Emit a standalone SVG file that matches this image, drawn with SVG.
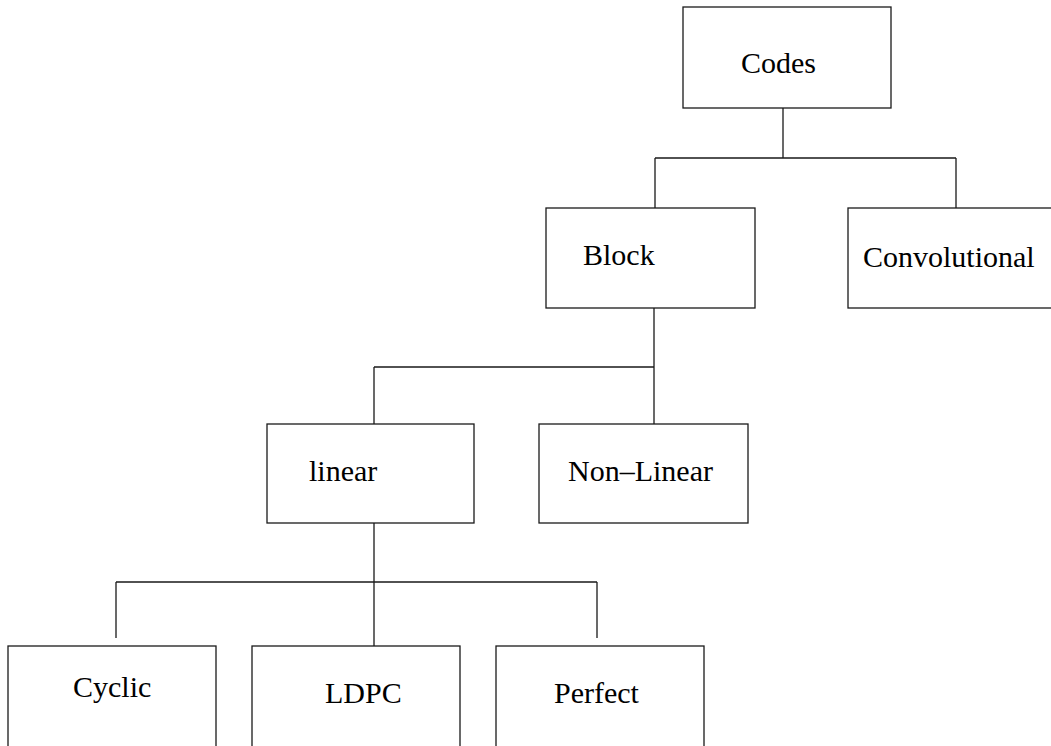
<svg xmlns="http://www.w3.org/2000/svg" width="1051" height="746" viewBox="0 0 1051 746">
  <style>
    .box { fill: #ffffff; stroke: #1a1a1a; stroke-width: 1.3; }
    .edge { fill: none; stroke: #1a1a1a; stroke-width: 1.3; }
    .label { font-family: "Liberation Serif", "Times New Roman", serif; font-size: 30px; fill: #000000; }
  </style>
  <rect x="0" y="0" width="1051" height="746" fill="#ffffff"/>

  <!-- tree connectors -->
  <g id="connectors">
    <path class="edge" d="M783,108 V158 M655,158 H956 M655,158 V208 M956,158 V208"/>
    <path class="edge" d="M654,308 V424 M374,367 H654 M374,367 V424"/>
    <path class="edge" d="M374,523 V646 M116,582 H597 M116,582 V638 M597,582 V638"/>
  </g>

  <g id="node-codes">
    <rect class="box" x="683" y="7" width="208" height="101"/>
    <text class="label" x="741" y="73">Codes</text>
  </g>
  <g id="node-block">
    <rect class="box" x="546" y="208" width="209" height="100"/>
    <text class="label" x="583" y="265">Block</text>
  </g>
  <g id="node-convolutional">
    <rect class="box" x="848" y="208" width="212" height="100"/>
    <text class="label" x="863" y="267">Convolutional</text>
  </g>
  <g id="node-linear">
    <rect class="box" x="267" y="424" width="207" height="99"/>
    <text class="label" x="309" y="481">linear</text>
  </g>
  <g id="node-nonlinear">
    <rect class="box" x="539" y="424" width="209" height="99"/>
    <text class="label" x="568" y="481">Non–Linear</text>
  </g>
  <g id="node-cyclic">
    <rect class="box" x="8" y="646" width="208" height="120"/>
    <text class="label" x="73" y="697">Cyclic</text>
  </g>
  <g id="node-ldpc">
    <rect class="box" x="252" y="646" width="208" height="120"/>
    <text class="label" x="325" y="703">LDPC</text>
  </g>
  <g id="node-perfect">
    <rect class="box" x="496" y="646" width="208" height="120"/>
    <text class="label" x="554" y="703">Perfect</text>
  </g>
</svg>
